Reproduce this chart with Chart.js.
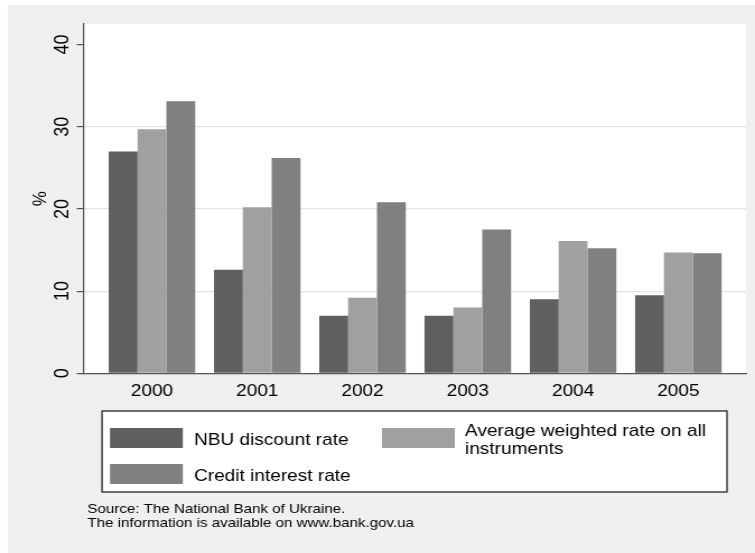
<!DOCTYPE html>
<html>
<head>
<meta charset="utf-8">
<script src="https://cdn.jsdelivr.net/npm/chart.js@4.4.1/dist/chart.umd.min.js"></script>
<style>
  html, body { margin: 0; padding: 0; background: #fff; overflow: hidden; }
  /* the reference graph is stretched sideways, so the canvas is too */
  #wrap { width: 674px; height: 553px; transform: scaleX(1.1202); transform-origin: 0 0; }
</style>
</head>
<body>
<div id="wrap"><canvas id="chart" width="674" height="553"></canvas></div>
<script>
const years = ['2000', '2001', '2002', '2003', '2004', '2005'];
const nbuDiscountRate = [27.0, 12.6, 7.0, 7.0, 9.0, 9.5];
const avgWeightedRate = [29.7, 20.2, 9.2, 8.0, 16.1, 14.7];
const creditInterestRate = [33.1, 26.2, 20.8, 17.5, 15.2, 14.6];
const seriesNames = ['NBU discount rate', 'Average weighted rate on all instruments', 'Credit interest rate'];
const yTicks = [0, 10, 20, 30, 40];
const yTitle = '%';
const sourceLines = ['Source: The National Bank of Ukraine.', 'The information is available on www.bank.gov.ua'];

const FONT = '"Liberation Sans", Arial, Helvetica, sans-serif';
const toPoints = arr => arr.map((v, i) => ({ x: i, y: v }));

function wrapText(ctx, text, maxWidth) {
    const lines = [];
    let line = '';
    text.split(' ').forEach(word => {
        const test = line ? line + ' ' + word : word;
        if (line && ctx.measureText(test).width > maxWidth) {
            lines.push(line);
            line = word;
        }
        else {
            line = test;
        }
    });
    if (line)
        lines.push(line);
    return lines;
}

// grey page, white plot region
const backdrop = {
    id: 'backdrop',
    beforeDraw(chart) {
        const { ctx, chartArea } = chart;
        ctx.save();
        ctx.fillStyle = '#efefef';
        ctx.fillRect(7.1, 5, chart.width - 7.1, chart.height - 5);
        ctx.fillStyle = '#ffffff';
        ctx.fillRect(chartArea.left, chartArea.top, chartArea.right - chartArea.left, chartArea.bottom - chartArea.top);
        ctx.restore();
    }
};

// rotated y labels, boxed legend and the source note
const annotations = {
    id: 'annotations',
    afterDraw(chart) {
        const { ctx } = chart;
        const yScale = chart.scales.y;
        ctx.save();
        ctx.fillStyle = '#000';
        ctx.font = '18px ' + FONT;
        ctx.textAlign = 'center';
        ctx.textBaseline = 'alphabetic';
        yTicks.forEach(v => {
            ctx.save();
            ctx.translate(60.7, yScale.getPixelForValue(v));
            ctx.rotate(-Math.PI / 2);
            ctx.fillText(String(v), 0, 0);
            ctx.restore();
        });

        // legend
        const box = { x: 91.1, y: 411, w: 557.9, h: 81 };
        ctx.fillStyle = '#fff';
        ctx.fillRect(box.x, box.y, box.w, box.h);
        ctx.strokeStyle = '#333';
        ctx.lineWidth = 1.4;
        ctx.strokeRect(box.x, box.y, box.w, box.h);
        const colSwatch = [98.2, 341];
        const colText = [173.2, 415.1];
        const rowTop = [428, 464];
        ctx.font = '17px ' + FONT;
        ctx.textAlign = 'left';
        chart.data.datasets.forEach((ds, i) => {
            const col = i % 2;
            const row = Math.floor(i / 2);
            ctx.fillStyle = ds.backgroundColor;
            ctx.fillRect(colSwatch[col], rowTop[row], 65, 20);
            const lines = wrapText(ctx, ds.label, 226);
            const mid = rowTop[row] + 10;
            ctx.fillStyle = '#000';
            lines.forEach((ln, k) => {
                ctx.fillText(ln, colText[col], mid + 7 - (lines.length - 1) * 8.6 + k * 17.3);
            });
        });

        // source note
        ctx.font = '13.5px ' + FONT;
        sourceLines.forEach((ln, k) => {
            ctx.fillText(ln, 77.9, 512.5 + k * 14.4);
        });
        ctx.restore();
    }
};

new Chart(document.getElementById('chart'), {
    type: 'bar',
    data: {
        datasets: [
            { label: seriesNames[0], data: toPoints(nbuDiscountRate), backgroundColor: '#5f5f5f' },
            { label: seriesNames[1], data: toPoints(avgWeightedRate), backgroundColor: '#a0a0a0' },
            { label: seriesNames[2], data: toPoints(creditInterestRate), backgroundColor: '#808080' }
        ]
    },
    options: {
        responsive: false,
        animation: false,
        devicePixelRatio: 1,
        categoryPercentage: 0.822,
        barPercentage: 1,
        layout: { padding: { left: 0, right: 8, top: 24, bottom: 0 } },
        plugins: {
            legend: { display: false },
            tooltip: { enabled: false }
        },
        scales: {
            x: {
                type: 'linear',
                offset: false,
                min: -0.655,
                max: 5.643,
                afterBuildTicks: scale => { scale.ticks = years.map((y, i) => ({ value: i })); },
                afterFit: scale => { scale.height = 553 - 373.3; },
                grid: { display: false, drawTicks: false, offset: false },
                border: { display: true, color: '#555', width: 1.3 },
                ticks: {
                    autoSkip: false,
                    maxRotation: 0,
                    padding: 8,
                    color: '#000',
                    font: { family: FONT, size: 17 },
                    callback: value => years[value]
                }
            },
            y: {
                min: 0,
                max: 42.5,
                afterBuildTicks: scale => { scale.ticks = yTicks.map(v => ({ value: v })); },
                afterFit: scale => { scale.width = 74.1; },
                grid: {
                    color: c => (c.tick && c.tick.value > 0 && c.tick.value < 40) ? '#e4e4e4' : 'rgba(0,0,0,0)',
                    tickColor: '#555',
                    tickLength: 5.6,
                    lineWidth: 1.2
                },
                border: { display: true, color: '#555', width: 1.2 },
                ticks: { display: false },
                title: {
                    display: true,
                    text: yTitle,
                    color: '#000',
                    font: { family: FONT, size: 17 },
                    padding: { top: 25.7, bottom: 0 }
                }
            }
        }
    },
    plugins: [backdrop, annotations]
});
</script>
</body>
</html>
